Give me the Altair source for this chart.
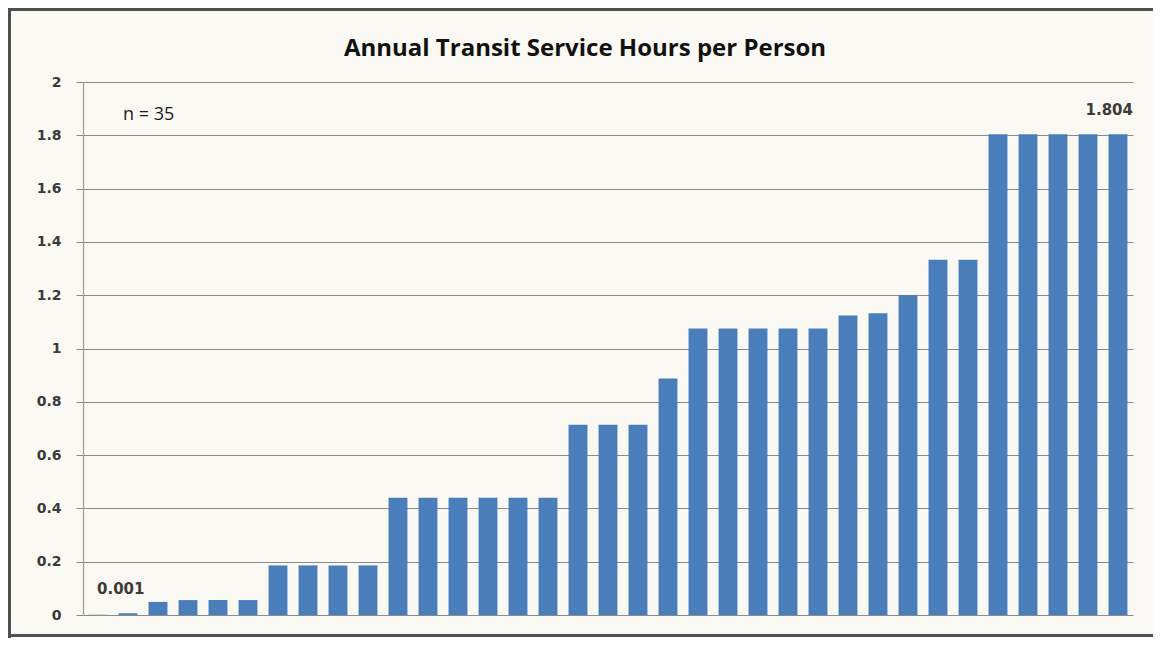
import altair as alt
import pandas as pd

# ---- data ----
ranks = list(range(1, 36))
hours = [0.001, 0.007, 0.049, 0.056, 0.056, 0.056, 0.186, 0.186, 0.186, 0.186,
         0.44, 0.44, 0.44, 0.44, 0.44, 0.44, 0.714, 0.714, 0.714, 0.887,
         1.075, 1.075, 1.075, 1.075, 1.075, 1.124, 1.132, 1.201, 1.333, 1.333,
         1.804, 1.804, 1.804, 1.804, 1.804]
y_ticks = [0, 0.2, 0.4, 0.6, 0.8, 1, 1.2, 1.4, 1.6, 1.8, 2]
title_text = "Annual Transit Service Hours per Person"
n_text = "n = 35"
n_pos = {"rank": 2, "y": 1.876}

df = pd.DataFrame({"rank": ranks, "hours": hours})
min_df = df[df["hours"] == df["hours"].min()].head(1).assign(lbl=lambda d: d["hours"].map(lambda v: f"{v:.3f}"))
max_df = df[df["hours"] == df["hours"].max()].tail(1).assign(lbl=lambda d: d["hours"].map(lambda v: f"{v:.3f}"))
n_df = pd.DataFrame({"rank": [n_pos["rank"]], "y": [n_pos["y"]], "lbl": [n_text]})
title_df = pd.DataFrame({"lbl": [title_text]})

W, H = 1050, 533
PAD = {"left": 75, "top": 74, "right": 20, "bottom": 23}
BG = "#FBF9F4"
LABEL_COLOR = "#3A3A3A"

xenc = alt.X("rank:O", axis=None,
             scale=alt.Scale(paddingInner=0.37, paddingOuter=0.185))
yscale = alt.Scale(domain=[0, 2], nice=False)

bars = alt.Chart(df).mark_bar(color="#4A7EBB").encode(
    x=xenc,
    y=alt.Y("hours:Q", scale=yscale, title=None,
            axis=alt.Axis(values=y_ticks, grid=True, gridColor="#8A8A8A",
                          gridWidth=1.2, domainColor="#9A9A9A", domainWidth=1.2,
                          tickColor="#8A8A8A", tickSize=7, labelPadding=15,
                          labelFont="DejaVu Sans", labelFontSize=14,
                          labelFontWeight="bold", labelColor=LABEL_COLOR,
                          labelExpr="datum.value == 0 ? '0' : format(datum.value, '~g')")),
)

min_lbl = alt.Chart(min_df).mark_text(
    align="left", baseline="bottom", dx=-1, dy=-18,
    font="DejaVu Sans", fontSize=15, fontWeight="bold", color=LABEL_COLOR
).encode(x=xenc, y=alt.Y("hours:Q", scale=yscale), text="lbl:N")

max_lbl = alt.Chart(max_df).mark_text(
    align="right", baseline="bottom", dx=15, dy=-16,
    font="DejaVu Sans", fontSize=15, fontWeight="bold", color=LABEL_COLOR
).encode(x=xenc, y=alt.Y("hours:Q", scale=yscale), text="lbl:N")

n_lbl = alt.Chart(n_df).mark_text(
    align="left", baseline="middle", dx=-5,
    font="Open Sans", fontSize=18, color="#1A1A1A"
).encode(x=xenc, y=alt.Y("y:Q", scale=yscale), text="lbl:N")

title = alt.Chart(title_df).mark_text(
    align="center", baseline="alphabetic",
    font="Open Sans", fontSize=24, fontWeight="bold", color="#111111"
).encode(x=alt.value(502), y=alt.value(-26), text="lbl:N")

right_edge = W + PAD["right"]
frame_top = alt.Chart(title_df).mark_rule(color="#505050", strokeWidth=3, clip=False).encode(
    x=alt.value(-75), x2=alt.value(right_edge), y=alt.value(-72.5))
frame_left = alt.Chart(title_df).mark_rule(color="#505050", strokeWidth=3, clip=False).encode(
    x=alt.value(-73.5), y=alt.value(-74), y2=alt.value(556))
frame_bottom = alt.Chart(title_df).mark_rule(color="#505050", strokeWidth=3, clip=False).encode(
    x=alt.value(-75), x2=alt.value(right_edge), y=alt.value(553.5))

chart = alt.layer(bars, min_lbl, max_lbl, n_lbl, title,
                  frame_top, frame_left, frame_bottom).properties(
    width=W, height=H,
    background=BG,
    autosize=alt.AutoSizeParams(type="none"),
    padding=PAD,
).configure_view(stroke=None)

chart.save("out.html", embed_options={"renderer": "svg", "actions": False})
